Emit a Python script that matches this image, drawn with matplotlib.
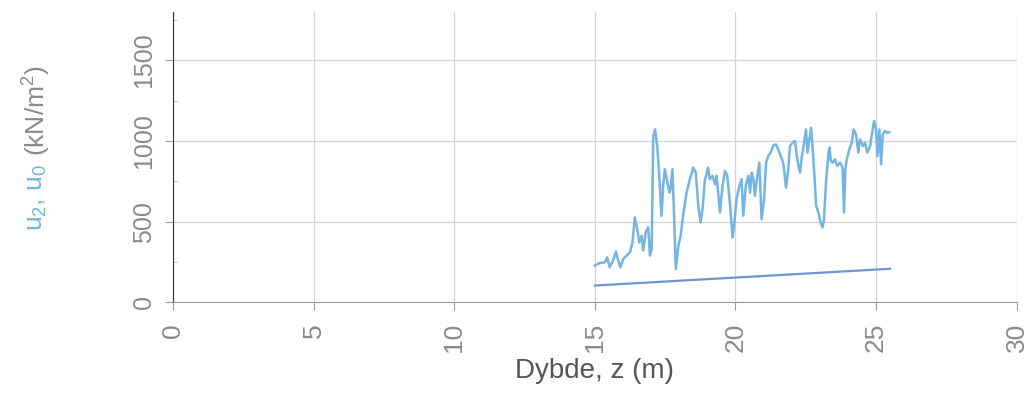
import matplotlib.pyplot as plt
from matplotlib.ticker import MultipleLocator

# depth (m) and pore pressure u2 (kN/m2)
z_u2 = [15.0, 15.18, 15.36, 15.44, 15.53, 15.65, 15.75, 15.83, 15.91, 16.01,
        16.13, 16.25, 16.34, 16.42, 16.51, 16.58, 16.66, 16.72, 16.81, 16.90,
        16.96, 17.02, 17.08, 17.14, 17.22, 17.29, 17.37, 17.43, 17.49, 17.57,
        17.65, 17.69, 17.76, 17.81, 17.88, 17.97, 18.05, 18.14, 18.26, 18.38,
        18.50, 18.59, 18.68, 18.76, 18.83, 18.91, 19.03, 19.09, 19.19, 19.27,
        19.33, 19.45, 19.54, 19.63, 19.71, 19.80, 19.90, 19.95, 20.04, 20.14,
        20.22, 20.28, 20.37, 20.46, 20.52, 20.58, 20.64, 20.69, 20.78, 20.85,
        20.93, 21.02, 21.09, 21.17, 21.25, 21.35, 21.44, 21.52, 21.61, 21.70,
        21.80, 21.88, 21.94, 22.03, 22.12, 22.18, 22.24, 22.30, 22.35, 22.44,
        22.51, 22.56, 22.63, 22.69, 22.75, 22.81, 22.87, 22.95, 23.03, 23.10,
        23.15, 23.22, 23.31, 23.35, 23.39, 23.46, 23.54, 23.62, 23.72, 23.81,
        23.86, 23.91, 23.96, 24.05, 24.14, 24.20, 24.29, 24.37, 24.43, 24.53,
        24.61, 24.69, 24.79, 24.88, 24.93, 25.00, 25.05, 25.12, 25.18, 25.24,
        25.32, 25.40, 25.47]
u2 = [227, 243, 247, 278, 216, 258, 313, 258, 216, 268,
      289, 309, 371, 526, 454, 371, 412, 320, 433, 464,
      289, 330, 1031, 1072, 969, 784, 536, 722, 825, 753,
      680, 701, 825, 577, 206, 350, 412, 536, 680, 763,
      835, 804, 598, 495, 577, 753, 835, 763, 784, 732,
      784, 557, 722, 815, 784, 619, 402, 474, 639, 722,
      763, 536, 722, 784, 680, 804, 763, 660, 784, 866,
      515, 639, 866, 907, 928, 973, 979, 949, 907, 866,
      711, 825, 969, 990, 1000, 907, 845, 804, 887, 990,
      1072, 928, 1010, 1083, 949, 784, 598, 557, 495, 464,
      515, 742, 928, 959, 876, 866, 887, 845, 866, 835,
      557, 825, 887, 949, 990, 1072, 1041, 928, 1010, 969,
      990, 928, 969, 1072, 1124, 1072, 907, 1072, 856, 1041,
      1062, 1051, 1055]

# hydrostatic pore pressure u0
z_u0 = [15.0, 25.5]
u0 = [103, 207]

xticks = [0, 5, 10, 15, 20, 25, 30]
yticks = [0, 500, 1000, 1500]

plt.rcParams['font.family'] = ['Liberation Sans', 'DejaVu Sans']
plt.rcParams['mathtext.default'] = 'regular'

grey = '#8a8a8a'
blue = '#74b4e2'

fig = plt.figure(figsize=(10.3, 4.05), dpi=100)
ax = fig.add_axes([0.168, 0.254, 0.819, 0.716])

ax.plot(z_u2, u2, color=blue, lw=1.8)
ax.plot(z_u0, u0, color='#6f94d2', lw=1.6)

ax.set_xlim(0, 30)
ax.set_ylim(0, 1800)
ax.set_xticks(xticks)
ax.set_yticks(yticks)
ax.yaxis.set_minor_locator(MultipleLocator(250))
ax.grid(True, which='major', color='#d4d4d4', lw=0.9)
ax.set_axisbelow(True)

ax.tick_params(axis='x', labelsize=19, labelcolor=grey, labelrotation=90,
               length=6, color='#9a9a9a', pad=9)
ax.tick_params(axis='y', which='major', labelsize=18, labelcolor=grey,
               labelrotation=90, length=6, color='#9a9a9a', pad=6)
ax.tick_params(axis='y', which='minor', direction='in', length=3, color='#bbbbbb')
for lbl in ax.get_yticklabels():
    lbl.set_va('center')

ax.spines['top'].set_visible(False)
ax.spines['right'].set_visible(False)
ax.spines['left'].set_color('#333333')
ax.spines['bottom'].set_color('#9a9a9a')

ax.set_xlabel('Dybde, z (m)', fontsize=20, color='#555555', labelpad=4)

# two-coloured y label
fig.text(0.036, 0.595, 'u$_2$, u$_0$', color=blue, fontsize=19, rotation=90,
         ha='center', va='top')
fig.text(0.036, 0.615, '(kN/m$^2$)', color=grey, fontsize=19, rotation=90,
         ha='center', va='bottom')

fig.savefig('out.png', dpi=100)
